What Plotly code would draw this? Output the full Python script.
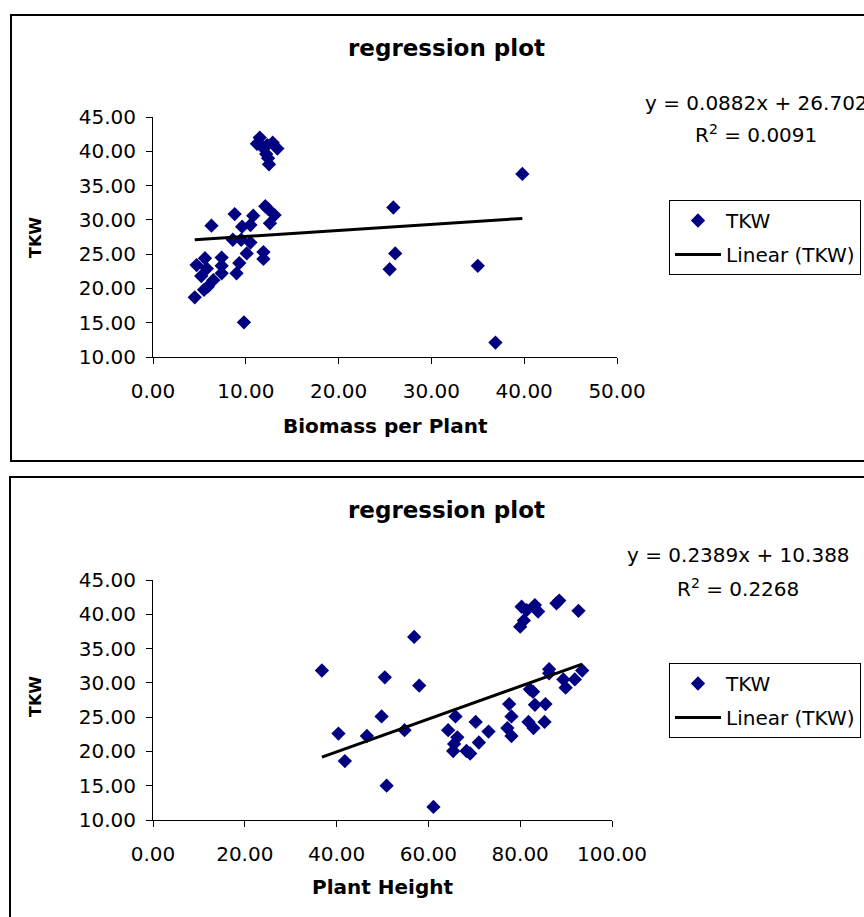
import plotly.graph_objects as go

W, H = 864, 917

# ---- data: top chart (Biomass per Plant vs TKW) ----
biomass = [11.5, 11.2, 11.8, 12.9, 13.4, 12.2, 12.4, 12.5, 12.3,
           12.1, 12.4, 13.1, 12.6, 8.8, 10.8, 10.5, 9.6, 6.3,
           8.6, 9.5, 10.5,
           10.1, 11.9, 7.4, 11.9, 5.6,
           9.3, 9.0, 7.4, 7.4, 4.7, 5.8, 5.2, 6.5, 5.9, 5.5, 4.5, 9.8,
           25.9, 26.1, 25.5, 35.0, 39.8, 36.9]
tkw_top = [42.0, 41.1, 40.6, 41.25, 40.4, 39.6, 39.0, 38.1, 40.9,
           32.0, 31.6, 30.7, 29.5, 30.85, 30.6, 29.25, 29.0, 29.15,
           27.1, 27.1, 26.7,
           25.1, 25.3, 24.5, 24.3, 24.4,
           23.7, 22.2, 23.3, 22.2, 23.4, 22.9, 21.8, 21.2, 20.25, 19.8, 18.7, 15.05,
           31.8, 25.1, 22.8, 23.3, 36.7, 12.1]
slope_top, intercept_top = 0.0882, 26.702
eq_top = "y = 0.0882x + 26.702"
r2_top = "R<sup>2</sup> = 0.0091"

# ---- data: bottom chart (Plant Height vs TKW) ----
height = [36.8, 56.9, 50.5, 58.0, 40.4, 41.8, 49.8, 46.6, 54.8, 50.9, 61.1,
          65.9, 64.3, 66.3, 65.6, 65.4, 68.3, 69.1, 70.3, 71.0, 73.1,
          77.6, 78.1, 77.2, 78.1, 81.8, 82.9, 83.2, 85.5, 85.3, 82.1, 82.8,
          86.3, 86.3, 89.4, 89.9, 91.9, 93.5,
          80.3, 81.4, 83.2, 83.9, 80.8, 80.0, 87.9, 88.5, 92.7]
tkw_bot = [31.8, 36.7, 30.8, 29.6, 22.6, 18.6, 25.1, 22.25, 23.1, 15.0, 11.9,
           25.1, 23.1, 22.06, 21.1, 20.06, 20.06, 19.7, 24.3, 21.3, 22.9,
           26.9, 25.1, 23.4, 22.25, 24.3, 23.4, 26.8, 26.9, 24.3, 29.05, 28.7,
           32.0, 31.4, 30.5, 29.3, 30.5, 31.8,
           41.1, 40.6, 41.35, 40.4, 39.1, 38.2, 41.6, 42.0, 40.5]
slope_bot, intercept_bot = 0.2389, 10.388
eq_bot = "y = 0.2389x + 10.388"
r2_bot = "R<sup>2</sup> = 0.2268"

title_text = "regression plot"
series_name = "TKW"
trend_name = "Linear (TKW)"

FONT = "DejaVu Sans"
NAVY = "#000080"


def px(x):
    return x / W


def py(y):
    return 1 - y / H


fig = go.Figure()

# top chart traces
fig.add_trace(go.Scatter(x=biomass, y=tkw_top, mode="markers", name=series_name,
                         marker=dict(symbol="diamond", size=11, color=NAVY, line=dict(width=0)),
                         xaxis="x", yaxis="y", legend="legend", legendgroup="a"))
xt = [min(biomass), max(biomass)]
fig.add_trace(go.Scatter(x=xt, y=[slope_top * v + intercept_top for v in xt], mode="lines",
                         name=trend_name, line=dict(color="black", width=3),
                         xaxis="x", yaxis="y", legend="legend", legendgroup="b"))

# bottom chart traces
fig.add_trace(go.Scatter(x=height, y=tkw_bot, mode="markers", name=series_name,
                         marker=dict(symbol="diamond", size=11, color=NAVY, line=dict(width=0)),
                         xaxis="x2", yaxis="y2", legend="legend2", legendgroup="c"))
xb = [min(height), max(height)]
fig.add_trace(go.Scatter(x=xb, y=[slope_bot * v + intercept_bot for v in xb], mode="lines",
                         name=trend_name, line=dict(color="black", width=3),
                         xaxis="x2", yaxis="y2", legend="legend2", legendgroup="d"))

axis_common = dict(showline=True, linecolor="black", linewidth=1, ticks="outside",
                   ticklen=6, tickwidth=1, tickcolor="black", showgrid=False,
                   zeroline=False, tickformat=".2f",
                   tickfont=dict(family=FONT, size=20, color="black"))

legend_common = dict(font=dict(family=FONT, size=20, color="black"),
                     bordercolor="black", borderwidth=1, bgcolor="white",
                     xanchor="left", yanchor="top", tracegroupgap=5,
                     itemwidth=46,
                     itemclick=False, itemdoubleclick=False)

fig.update_layout(
    width=W, height=H,
    margin=dict(l=0, r=0, t=0, b=0, autoexpand=False),
    paper_bgcolor="white", plot_bgcolor="white",
    font=dict(family=FONT, color="black"),
    xaxis=dict(domain=[px(153), px(617)], range=[0, 50], dtick=10, tick0=0,
               anchor="y", ticklabelstandoff=10, **axis_common),
    yaxis=dict(domain=[py(357), py(117)], range=[10, 45], dtick=5, tick0=10,
               anchor="x", ticklabelstandoff=6, **axis_common),
    xaxis2=dict(domain=[px(153), px(612)], range=[0, 100], dtick=20, tick0=0,
                anchor="y2", ticklabelstandoff=10, **axis_common),
    yaxis2=dict(domain=[py(820), py(580)], range=[10, 45], dtick=5, tick0=10,
                anchor="x2", ticklabelstandoff=6, **axis_common),
    legend=dict(x=px(669), y=py(200), **legend_common),
    legend2=dict(x=px(669), y=py(663), **legend_common),
    showlegend=True,
)

# frames around each chart
fig.add_shape(type="rect", xref="paper", yref="paper", x0=px(11), x1=1.02,
              y0=py(461), y1=py(15), line=dict(color="black", width=2), layer="below")
fig.add_shape(type="rect", xref="paper", yref="paper", x0=px(10), x1=1.02,
              y0=-0.05, y1=py(477), line=dict(color="black", width=2), layer="below")


def ann(text, x, y, size=20, angle=0):
    fig.add_annotation(text=text, x=px(x), y=py(y), xref="paper", yref="paper",
                       showarrow=False, xanchor="center", yanchor="middle",
                       textangle=angle, font=dict(family=FONT, size=size, color="black"))


# titles
ann("<b>" + title_text + "</b>", 446, 48, size=23)
ann("<b>" + title_text + "</b>", 446, 510, size=23)
# axis titles
ann("<b>Biomass per Plant</b>", 385, 426, size=20)
ann("<b>Plant Height</b>", 382, 887, size=20)
ann("<b>TKW</b>", 35, 238, size=16, angle=-90)
ann("<b>TKW</b>", 35, 697, size=16, angle=-90)
# equations
ann(eq_top, 756, 103)
ann(r2_top, 756, 134)
ann(eq_bot, 738, 555)
ann(r2_bot, 738, 588)

fig.write_html(
    "out.html",
    config={"displayModeBar": False},
    post_script="document.body.style.margin='0';document.body.style.overflow='hidden';",
)
